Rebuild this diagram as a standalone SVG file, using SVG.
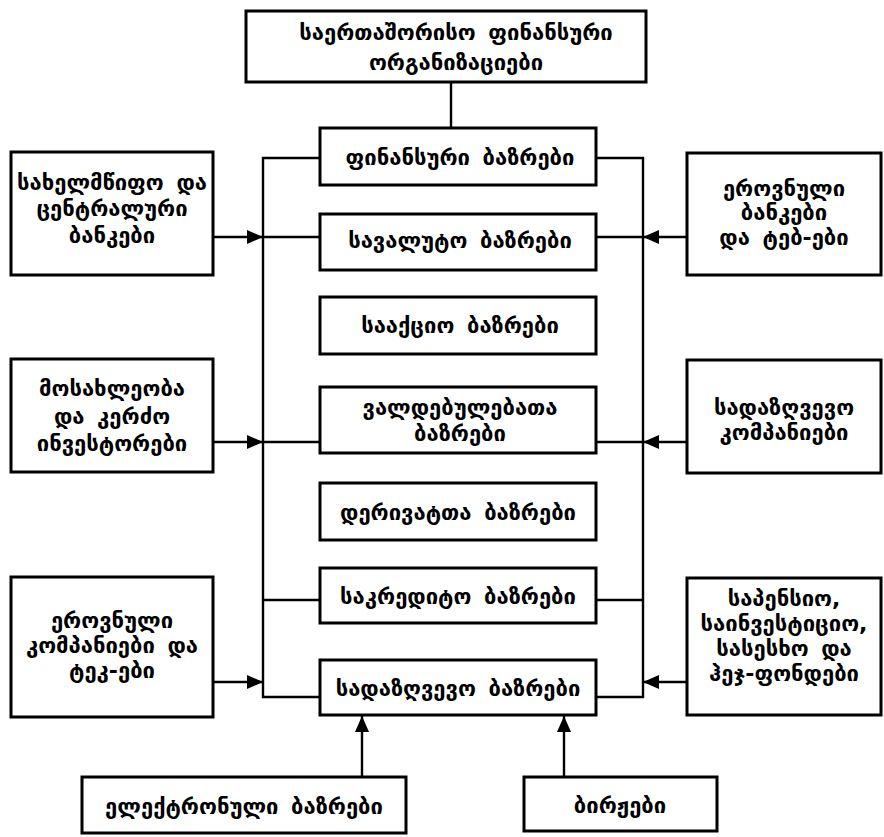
<svg xmlns="http://www.w3.org/2000/svg" width="884" height="837" viewBox="0 0 884 837">
<defs>
<style>
.box{fill:#fff;stroke:#000;stroke-width:3}
.ln{fill:none;stroke:#000;stroke-width:2.4}
.t{font-family:"DejaVu Sans","Noto Sans",sans-serif;font-size:22px;font-weight:bold;text-anchor:middle;dominant-baseline:central;fill:#000;word-spacing:5px}
</style>
<marker id="ah" viewBox="0 0 16 14" refX="16" refY="7" markerWidth="16" markerHeight="14" markerUnits="userSpaceOnUse" orient="auto">
<path d="M0,0 L16,7 L0,14 Z" fill="#000"/>
</marker>
</defs>
<rect width="884" height="837" fill="#fff"/>
<g id="connectors">
<line class="ln" x1="451" y1="82" x2="451" y2="128"/>
<polyline class="ln" points="320,158 263,158 263,697 320,697"/>
<polyline class="ln" points="596,158 643,158 643,697 596,697"/>
<line class="ln" x1="263" y1="237" x2="320" y2="237"/>
<line class="ln" x1="596" y1="237" x2="643" y2="237"/>
<line class="ln" x1="263" y1="442" x2="320" y2="442"/>
<line class="ln" x1="596" y1="442" x2="643" y2="442"/>
<line class="ln" x1="263" y1="600" x2="320" y2="600"/>
<line class="ln" x1="596" y1="600" x2="643" y2="600"/>
<line class="ln" x1="213" y1="237" x2="263" y2="237" marker-end="url(#ah)"/>
<line class="ln" x1="213" y1="442" x2="263" y2="442" marker-end="url(#ah)"/>
<line class="ln" x1="213" y1="682" x2="263" y2="682" marker-end="url(#ah)"/>
<line class="ln" x1="687" y1="237" x2="643" y2="237" marker-end="url(#ah)"/>
<line class="ln" x1="687" y1="442" x2="643" y2="442" marker-end="url(#ah)"/>
<line class="ln" x1="687" y1="682" x2="643" y2="682" marker-end="url(#ah)"/>
<line class="ln" x1="362" y1="777" x2="362" y2="716" marker-end="url(#ah)"/>
<line class="ln" x1="564" y1="777" x2="564" y2="716" marker-end="url(#ah)"/>
</g>
<g id="intl-orgs"><rect class="box" x="246" y="11" width="400" height="71"/>
<text class="t" x="456" y="32">საერთაშორისო ფინანსური</text><text class="t" x="456" y="62">ორგანიზაციები</text></g>
<g id="fin-markets"><rect class="box" x="320" y="128" width="276" height="57"/><text class="t" x="460" y="157">ფინანსური ბაზრები</text></g>
<g id="fx-markets"><rect class="box" x="320" y="214" width="276" height="56"/><text class="t" x="460" y="240">სავალუტო ბაზრები</text></g>
<g id="stock-markets"><rect class="box" x="320" y="297" width="276" height="57"/><text class="t" x="460" y="325">სააქციო ბაზრები</text></g>
<g id="bond-markets"><rect class="box" x="320" y="387" width="276" height="66"/><text class="t" x="460" y="407">ვალდებულებათა</text><text class="t" x="460" y="433">ბაზრები</text></g>
<g id="deriv-markets"><rect class="box" x="320" y="483" width="276" height="57"/><text class="t" x="458" y="512">დერივატთა ბაზრები</text></g>
<g id="credit-markets"><rect class="box" x="320" y="568" width="276" height="55"/><text class="t" x="458" y="596">საკრედიტო ბაზრები</text></g>
<g id="insur-markets"><rect class="box" x="320" y="660" width="276" height="55"/><text class="t" x="458" y="688">სადაზღვევო ბაზრები</text></g>
<g id="state-banks"><rect class="box" x="11" y="152" width="202" height="123"/><text class="t" x="112" y="182">სახელმწიფო და</text><text class="t" x="112" y="208">ცენტრალური</text><text class="t" x="112" y="235">ბანკები</text></g>
<g id="households"><rect class="box" x="11" y="359" width="202" height="113"/><text class="t" x="112" y="388">მოსახლეობა</text><text class="t" x="112" y="416">და კერძო</text><text class="t" x="112" y="443">ინვესტორები</text></g>
<g id="national-companies"><rect class="box" x="11" y="577" width="202" height="140"/><text class="t" x="112" y="620">ეროვნული</text><text class="t" x="112" y="645">კომპანიები და</text><text class="t" x="112" y="670">ტეკ-ები</text></g>
<g id="national-banks"><rect class="box" x="687" y="153" width="194" height="122"/><text class="t" x="784" y="188">ეროვნული</text><text class="t" x="784" y="212">ბანკები</text><text class="t" x="784" y="237">და ტებ-ები</text></g>
<g id="insur-companies"><rect class="box" x="687" y="360" width="194" height="113"/><text class="t" x="784" y="407">სადაზღვევო</text><text class="t" x="784" y="432">კომპანიები</text></g>
<g id="funds"><rect class="box" x="687" y="578" width="194" height="137"/><text class="t" x="784" y="598">საპენსიო,</text><text class="t" x="784" y="623">საინვესტიციო,</text><text class="t" x="784" y="648">სასესხო და</text><text class="t" x="784" y="673">ჰეჯ-ფონდები</text></g>
<g id="e-markets"><rect class="box" x="82" y="777" width="324" height="56"/><text class="t" x="244" y="806">ელექტრონული ბაზრები</text></g>
<g id="exchanges"><rect class="box" x="524" y="777" width="193" height="54"/><text class="t" x="620" y="805">ბირჟები</text></g>
</svg>
